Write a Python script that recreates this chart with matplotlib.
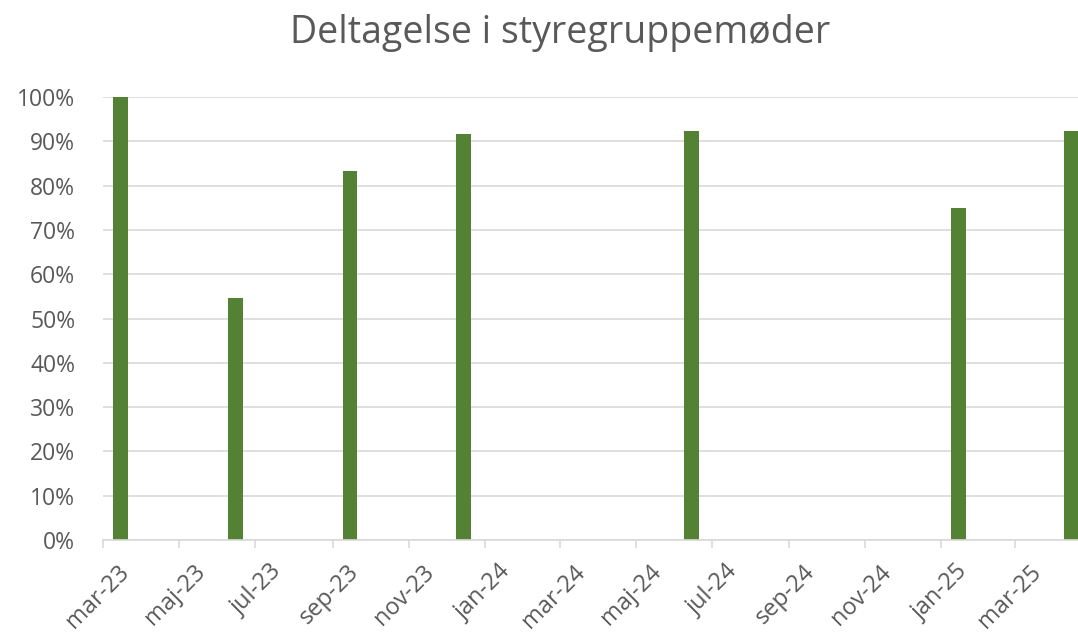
import datetime as dt
import matplotlib
matplotlib.use("Agg")
import matplotlib.pyplot as plt
import matplotlib.transforms as mtransforms
from matplotlib.ticker import PercentFormatter

# data: meeting month and attendance share
months = ["2023-03", "2023-06", "2023-09", "2023-12", "2024-06", "2025-01", "2025-04"]
attendance = [1.0, 6 / 11, 10 / 12, 11 / 12, 12 / 13, 0.75, 12 / 13]

danish_months = ["jan", "feb", "mar", "apr", "maj", "jun",
                 "jul", "aug", "sep", "okt", "nov", "dec"]

bar_color = "#548235"
grid_color = "#D9D9D9"
text_color = "#595959"

plt.rcParams["font.family"] = ["Open Sans", "DejaVu Sans"]

# bar at the middle of each month slot
dates = []
for m in months:
    y, mo = map(int, m.split("-"))
    dates.append(dt.date(y, mo, 15) + dt.timedelta(days=0.5))

fig = plt.figure(figsize=(10.78, 6.37), dpi=100)
ax = fig.add_axes([103 / 1078, 1 - 540 / 637, (1091 - 103) / 1078, (540 - 97) / 637])

ax.bar(dates, attendance, width=12, color=bar_color, zorder=3)

ax.set_ylim(0, 1)
ax.set_yticks([i / 10 for i in range(11)])
ax.yaxis.set_major_formatter(PercentFormatter(1.0, decimals=0))
ax.grid(axis="y", color=grid_color, linewidth=1.2, zorder=0)

ax.set_xlim(dt.date(2023, 3, 1), dt.date(2025, 5, 1))
tick_dates = []
y, mo = 2023, 3
while dt.date(y, mo, 1) <= dt.date(2025, 3, 1):
    tick_dates.append(dt.date(y, mo, 1))
    mo += 2
    if mo > 12:
        mo -= 12
        y += 1
ax.set_xticks(tick_dates)
ax.set_xticklabels([f"{danish_months[d.month - 1]}-{d.year % 100:02d}" for d in tick_dates],
                   rotation=45, ha="right", va="top", rotation_mode="anchor")

for side in ["top", "right", "left"]:
    ax.spines[side].set_visible(False)
ax.spines["bottom"].set_color(grid_color)
ax.spines["bottom"].set_linewidth(1.2)
ax.spines["bottom"].set_zorder(4)

ax.tick_params(axis="x", colors=grid_color, length=6, width=1.2, labelcolor=text_color,
               labelsize=17, pad=4)
ax.tick_params(axis="y", length=0, labelcolor=text_color, labelsize=16.5, pad=20)

# shift rotated labels so their upper end sits just right of the tick (Excel style)
offset = mtransforms.ScaledTranslation(14 / 100, -6 / 100, fig.dpi_scale_trans)
for lbl in ax.get_xticklabels():
    lbl.set_transform(lbl.get_transform() + offset)

fig.text(560 / 1078, 1 - 33 / 637, "Deltagelse i styregruppemøder",
         ha="center", va="center", fontsize=27, color=text_color)

fig.savefig("out.png", dpi=100)
